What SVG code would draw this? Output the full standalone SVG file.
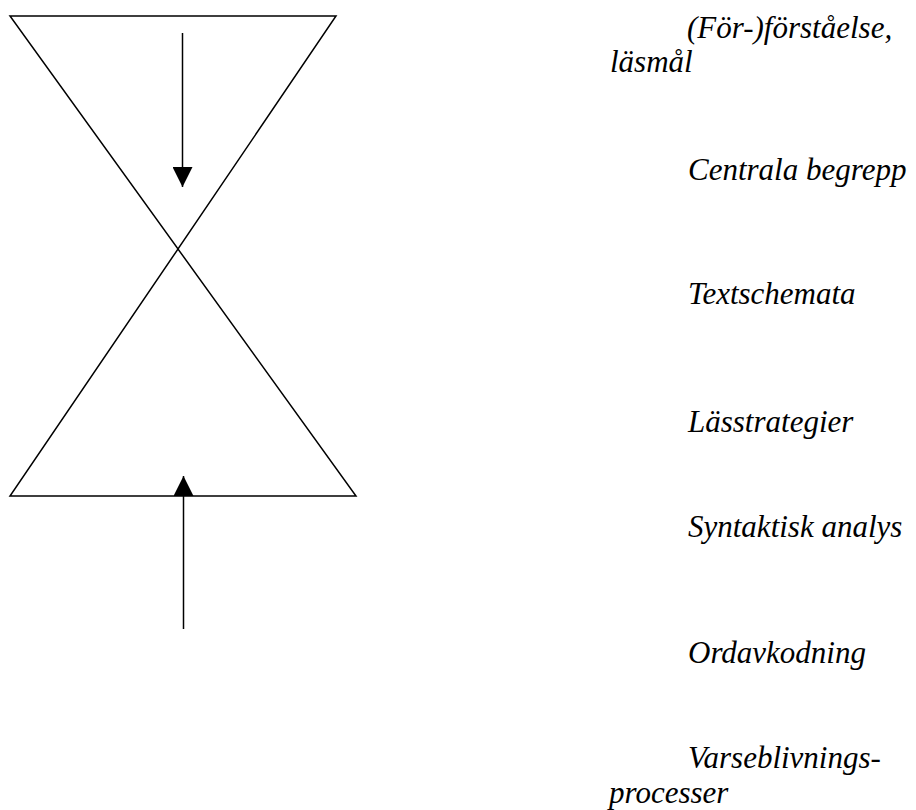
<svg xmlns="http://www.w3.org/2000/svg" width="916" height="810" viewBox="0 0 916 810">
<defs>
<marker id="ah" viewBox="0 0 20 20" refX="20" refY="10" markerWidth="20" markerHeight="20" markerUnits="userSpaceOnUse" orient="auto">
<path d="M0,0 L20,10 L0,20 Z" fill="#000"/>
</marker>
</defs>
<rect width="916" height="810" fill="#fff"/>
<g id="top-triangle"><polygon fill="none" stroke="#000" stroke-width="1.5" points="10,16 336,16 178,249"/></g>
<g id="bottom-triangle"><polygon fill="none" stroke="#000" stroke-width="1.5" points="10,496 356,496 178,249"/></g>
<g id="connectors" stroke="#000" stroke-width="1.5">
<line x1="182.5" y1="33" x2="182.5" y2="187" marker-end="url(#ah)"/>
<line x1="183.5" y1="629" x2="183.5" y2="476" marker-end="url(#ah)"/>
</g>
<g id="labels">
<text x="687" y="38" font-family="serif" font-style="italic" font-size="31">(För-)förståelse,</text>
<text x="610" y="72" font-family="serif" font-style="italic" font-size="31">läsmål</text>
<text x="688" y="180" font-family="serif" font-style="italic" font-size="31">Centrala begrepp</text>
<text x="688" y="304" font-family="serif" font-style="italic" font-size="31">Textschemata</text>
<text x="688" y="432" font-family="serif" font-style="italic" font-size="31">Lässtrategier</text>
<text x="688" y="537" font-family="serif" font-style="italic" font-size="31">Syntaktisk analys</text>
<text x="688" y="663" font-family="serif" font-style="italic" font-size="31">Ordavkodning</text>
<text x="688" y="768" font-family="serif" font-style="italic" font-size="31">Varseblivnings-</text>
<text x="609" y="803" font-family="serif" font-style="italic" font-size="31">processer</text>
</g>
</svg>
